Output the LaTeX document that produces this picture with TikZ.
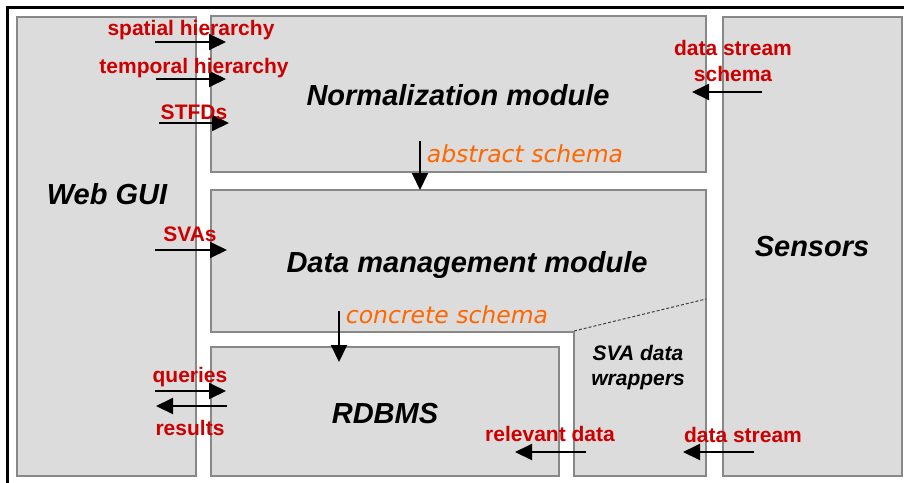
\documentclass[tikz,border=0pt]{standalone}
\usepackage{fontspec}
\setmainfont{Liberation Sans}
\newfontfamily\schemafont{DejaVu Sans}
\usepackage{tikz}
\usetikzlibrary{arrows.meta}
\definecolor{boxgray}{RGB}{220,220,220}
\definecolor{edgegray}{RGB}{136,136,136}
\definecolor{labelred}{RGB}{204,0,0}
\definecolor{schemaorange}{RGB}{255,102,0}
\tikzset{
  module/.style = {rectangle, draw=edgegray, fill=boxgray, line width=1.5pt,
    inner sep=0pt},% grey block
  mod_title/.style = {anchor=base, inner sep=0pt, align=center,
    font=\fontsize{29}{33}\selectfont\bfseries\itshape},
  mod_small/.style = {anchor=base, inner sep=0pt, align=center,
    font=\fontsize{21}{25}\selectfont\bfseries\itshape},
  flow_lbl/.style = {anchor=base, inner sep=0pt, align=center, labelred,
    font=\fontsize{21}{26}\selectfont\bfseries},% red flow label
  schema_lbl/.style = {anchor=base, inner sep=0pt, schemaorange,
    font=\schemafont\fontsize{23.5}{26}\selectfont\itshape},% orange schema label
  flow/.style = {-{Triangle[length=17pt,width=16pt]}, line width=2pt, black},
}

\begin{document}
\begin{tikzpicture}[x=1pt,y=-1pt]
  \clip (0,0) rectangle (904,482);
  \fill[white] (0,0) rectangle (904,482);
  % outer frame
  \draw[line width=3pt] (7.5,7) rectangle (920,500);

  % blocks
  \node[module, minimum width=179, minimum height=459] (gui) at (106.5,246.5) {};
  \node[module, minimum width=495, minimum height=156] (norm) at (458.5,94) {};
  \node[module, minimum width=179, minimum height=459] (sens) at (812.5,246.5) {};
  \node[module, minimum width=348, minimum height=129] (rdbms) at (385,411.5) {};
  \draw[draw=edgegray, fill=boxgray, line width=1.5pt]
    (211,190) -- (706,190) -- (706,476) -- (574,476) -- (574,332) -- (211,332) -- cycle;
  \draw[black!75, line width=1pt, dash pattern=on 3pt off 2pt] (574,331) -- (706,299);

  \node[mod_title] (gui_t) at (107,204) {Web GUI};
  \node[mod_title] (norm_t) at (458,105) {Normalization module};
  \node[mod_title] (dm_t) at (467,272) {Data management module};
  \node[mod_title] (rdbms_t) at (385,423) {RDBMS};
  \node[mod_title] (sens_t) at (812,256) {Sensors};
  \node[mod_small] (wrap_t) at (638,385) {SVA data\\wrappers};

  % arrow ends
  \coordinate (sh_a) at (155,42);   \coordinate (sh_b) at (226,42);
  \coordinate (th_a) at (156,79);   \coordinate (th_b) at (226,79);
  \coordinate (st_a) at (159,123);  \coordinate (st_b) at (229,123);
  \coordinate (sv_a) at (155,250);  \coordinate (sv_b) at (227,250);
  \coordinate (qu_a) at (155,391);  \coordinate (qu_b) at (226,391);
  \coordinate (re_a) at (227,406);  \coordinate (re_b) at (156,406);
  \coordinate (dss_a) at (762,92);  \coordinate (dss_b) at (692,92);
  \coordinate (rel_a) at (586,452); \coordinate (rel_b) at (515,452);
  \coordinate (ds_a) at (754,452);  \coordinate (ds_b) at (683,452);
  \coordinate (abs_a) at (420,141); \coordinate (abs_b) at (420,190);
  \coordinate (con_a) at (339,311); \coordinate (con_b) at (339,362);

  %   flows into the modules
  \path[flow] (sh_a) edge (sh_b);
  \path[flow] (th_a) edge (th_b);
  \path[flow] (st_a) edge (st_b);
  \path[flow] (sv_a) edge (sv_b);
  \path[flow] (qu_a) edge (qu_b);
  \path[flow] (re_a) edge (re_b);
  \path[flow] (dss_a) edge (dss_b);
  \path[flow] (rel_a) edge (rel_b);
  \path[flow] (ds_a) edge (ds_b);
  %   schemas
  \path[flow] (abs_a) edge (abs_b);
  \path[flow] (con_a) edge (con_b);

  \node[flow_lbl] (sh_l) at (191,35) {spatial hierarchy};
  \node[flow_lbl] (th_l) at (194,73) {temporal hierarchy};
  \node[flow_lbl] (st_l) at (194,119) {STFDs};
  \node[flow_lbl] (sv_l) at (190,241) {SVAs};
  \node[flow_lbl] (qu_l) at (190,382) {queries};
  \node[flow_lbl] (re_l) at (190,435) {results};
  \node[flow_lbl] (dss_l) at (733,81) {data stream\\schema};
  \node[flow_lbl] (rel_l) at (550,441) {relevant data};
  \node[flow_lbl] (ds_l) at (743,442) {data stream};
  \node[schema_lbl] (abs_l) at (525,162) {abstract schema};
  \node[schema_lbl] (con_l) at (447,323) {concrete schema};
\end{tikzpicture}
\end{document}
